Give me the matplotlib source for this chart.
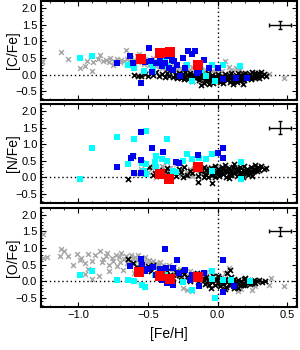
import matplotlib
matplotlib.use("Agg")
import matplotlib.pyplot as plt
from matplotlib.ticker import MultipleLocator

plt.rcParams['font.family'] = ['Liberation Sans', 'DejaVu Sans']

# ---------------- data: (Fe/H, X/Fe) pairs per group ----------------
gray_c = [(-1.26,0.39),(-1.12,0.69),(-1.07,0.48),(-0.99,0.21),(-0.95,0.27),(-0.94,0.40),(-0.90,0.10),
          (-0.89,0.37),(-0.86,0.47),(-0.84,0.60),(-0.82,0.40),(-0.80,0.45),(-0.78,0.38),(-0.77,0.50),
          (-0.75,0.30),(-0.74,0.42),(-0.72,0.46),(-0.70,0.38),(-0.69,0.44),(-0.67,0.40),(-0.66,0.75),
          (-0.65,0.47),(-0.63,0.36),(-0.62,0.50),(-0.60,0.44),(-0.58,0.55),(-0.57,0.38),(-0.56,0.62),
          (-0.55,0.45),(-0.53,0.33),(-0.52,0.48),(-0.50,0.40),(-0.49,0.28),(-0.47,0.35),(-0.46,0.50),
          (-0.44,0.25),(-0.43,0.38),(-0.41,0.30),(-0.40,0.20),(-0.38,0.28),(-0.37,0.15),(-0.35,0.32),
          (-0.34,0.22),(-0.32,0.10),(-0.31,0.25),(-0.29,0.18),(-0.28,0.05),(-0.26,0.20),(-0.25,0.12),
          (-0.23,0.28),(-0.22,0.08),(-0.20,0.15),(-0.18,0.22),(-0.17,0.05),(-0.15,0.12),(-0.13,0.18),
          (-0.11,0.02),(-0.10,0.10),(-0.08,0.15),(-0.06,0.05),(-0.04,0.12),(-0.02,0.08),(0.00,0.18),
          (0.03,0.10),(0.05,0.42),(0.08,0.22),(0.10,0.15),(0.13,0.20),(0.16,0.15),(0.35,-0.02),
          (0.37,0.02),(0.48,-0.10),(-1.26,0.42)]
black_c = [(-0.60,-0.02),(-0.57,-0.05),(-0.55,-0.03),(-0.52,0.02),(-0.50,-0.04),(-0.48,0.05),(-0.46,-0.02),
           (-0.44,0.08),(-0.42,-0.05),(-0.40,0.02),(-0.38,-0.08),(-0.36,0.05),(-0.35,-0.03),(-0.33,0.10),
           (-0.32,-0.06),(-0.30,0.02),(-0.29,-0.10),(-0.28,0.06),(-0.27,-0.03),(-0.26,-0.12),(-0.25,0.03),
           (-0.24,-0.07),(-0.23,0.08),(-0.22,-0.02),(-0.21,-0.15),(-0.20,0.04),(-0.19,-0.08),(-0.18,-0.20),
           (-0.17,0.00),(-0.16,-0.12),(-0.15,0.06),(-0.14,-0.05),(-0.13,-0.18),(-0.12,0.02),(-0.11,-0.10),
           (-0.10,-0.25),(-0.09,-0.03),(-0.08,-0.14),(-0.07,0.05),(-0.06,-0.08),(-0.05,-0.20),(-0.04,0.00),
           (-0.03,-0.12),(-0.02,-0.05),(-0.01,-0.18),(0.00,0.02),(0.01,-0.10),(0.02,-0.22),(0.03,-0.03),
           (0.04,-0.15),(0.05,0.03),(0.06,-0.08),(0.07,-0.18),(0.08,-0.02),(0.09,-0.12),(0.10,0.04),
           (0.11,-0.06),(0.12,-0.16),(0.13,-0.01),(0.14,-0.10),(0.15,0.05),(0.16,-0.05),(0.17,-0.14),
           (0.18,0.02),(0.19,-0.08),(0.20,0.06),(0.21,-0.03),(0.22,-0.12),(0.23,0.03),(0.24,-0.06),
           (0.25,0.08),(0.26,-0.02),(0.27,0.04),(0.28,-0.08),(0.29,0.06),(0.30,0.00),(0.31,0.08),
           (0.33,0.03),(0.35,-0.05),(0.18,-0.30),(-0.12,-0.32),(0.30,-0.10),
           (-0.20,-0.05),(-0.15,-0.02),(-0.10,-0.08),(-0.05,-0.12),(0.00,-0.15),(0.05,-0.10),(0.10,-0.12),
           (0.15,-0.08),(0.20,-0.05),(0.25,-0.03),(-0.08,-0.20),(0.02,-0.08),(0.07,-0.05),(0.12,-0.20),
           (0.17,-0.02),(0.22,0.00),(-0.03,-0.25),(0.04,-0.26),(0.09,-0.22),(-0.18,-0.12),(-0.13,-0.08),
           (0.27,-0.10),(0.32,-0.03),(-0.30,-0.05),(-0.24,-0.15),(0.14,-0.24),(-0.06,-0.30),(0.19,-0.18),
           (0.11,-0.28),(0.24,-0.14),(-0.01,-0.08),(0.06,-0.15),(0.13,-0.13),(-0.07,-0.16),(0.16,-0.20)]
cyan_c = [(-0.99,0.51),(-0.90,0.55),(-0.64,0.30),(-0.60,0.20),(-0.53,0.12),(-0.38,0.48),(-0.47,0.30),
          (-0.46,0.12),(-0.36,0.25),(-0.22,0.30),(-0.18,-0.20),(-0.04,0.30),(-0.02,-0.20),(0.04,0.30),
          (0.16,0.25),(-0.08,-0.05),(-0.42,0.38),(-0.12,0.15)]
blue_c = [(-0.72,0.35),(-0.63,0.55),(-0.61,0.35),(-0.55,-0.27),(-0.54,0.54),(-0.49,0.80),(-0.44,0.35),
          (-0.47,0.08),(-0.41,0.45),(-0.38,0.35),(-0.36,0.55),(-0.33,0.45),(-0.31,0.40),(-0.29,0.30),
          (-0.32,0.15),(-0.25,0.50),(-0.21,0.70),(-0.16,0.70),(-0.18,0.62),(-0.10,0.45),(-0.13,0.10),
          (-0.06,0.20),(0.00,0.20),(0.04,-0.15),(0.13,-0.10),(0.21,-0.12),(-0.27,-0.05),(-0.40,0.25),
          (-0.35,0.20),(-0.23,0.20),(-0.15,0.05),(-0.52,0.38),(-0.48,0.42)]
red_c = [(-0.55,0.47),(-0.41,0.65),(-0.34,0.67),(-0.14,0.30)]

gray_n = [(-0.55,0.25),(-0.50,0.15),(-0.48,0.30),(-0.45,0.10),(-0.42,0.22),(-0.40,0.35),(-0.38,0.05),
          (-0.36,0.18),(-0.34,0.28),(-0.32,0.12),(-0.30,0.40),(-0.28,0.20),(-0.26,0.08),(-0.24,0.30),
          (-0.22,0.15),(-0.20,0.25),(-0.18,0.05),(-0.16,0.35),(-0.14,0.20),(-0.12,0.10),(-0.10,0.28),
          (-0.08,0.15),(-0.05,0.32),(-0.03,0.22),(0.00,0.35),(0.05,0.28),(-0.52,0.40),(-0.44,0.02),
          (0.10,0.30),(-0.58,0.10),(-0.36,0.46)]
black_n = [(-0.45,0.12),(-0.42,0.22),(-0.40,0.08),(-0.38,0.18),(-0.36,0.28),(-0.34,0.10),(-0.32,0.20),
           (-0.30,0.05),(-0.28,0.25),(-0.26,0.15),(-0.24,0.30),(-0.22,0.08),(-0.20,0.20),(-0.18,0.12),
           (-0.16,0.28),(-0.14,0.05),(-0.12,0.18),(-0.10,0.32),(-0.09,0.10),(-0.08,0.22),(-0.07,0.02),
           (-0.06,0.15),(-0.05,0.28),(-0.04,0.08),(-0.03,0.20),(-0.02,0.35),(-0.01,0.12),(0.00,0.25),
           (0.01,0.05),(0.02,0.18),(0.03,0.30),(0.04,0.10),(0.05,0.22),(0.06,0.02),(0.07,0.15),
           (0.08,0.28),(0.09,0.08),(0.10,0.20),(0.11,0.32),(0.12,0.12),(0.13,0.24),(0.14,0.05),
           (0.15,0.18),(0.16,0.30),(0.17,0.10),(0.18,0.22),(0.19,0.35),(0.20,0.14),(0.21,0.26),
           (0.22,0.08),(0.23,0.20),(0.24,0.32),(0.25,0.15),(0.26,0.25),(0.27,0.38),(0.28,0.20),
           (0.29,0.30),(0.30,0.22),(0.31,0.33),(0.33,0.25),(0.35,0.28),(-0.64,-0.05),(-0.61,0.65),
           (-0.49,0.31),(-0.46,0.07),(-0.14,-0.14),(-0.04,-0.17),(-0.55,0.15),(-0.10,0.00),(0.05,0.38),
           (0.12,0.40),(0.18,0.02),(0.25,0.05),(-0.02,0.00),(0.08,-0.02),(-0.25,0.00),
           (-0.06,0.25),(0.02,0.12),(0.07,0.20),(0.10,0.10),(0.15,0.26),(0.20,0.20),(0.23,0.12),
           (0.00,0.15),(-0.12,0.25),(0.28,0.28),(0.13,0.16),(0.04,0.24),(-0.08,0.08),(0.16,0.12),
           (0.21,0.18),(0.09,0.15),(-0.03,0.10),(0.26,0.18)]
cyan_n = [(-0.99,-0.06),(-0.90,0.88),(-0.72,1.21),(-0.64,0.40),(-0.60,1.15),(-0.51,1.39),(-0.54,0.43),
          (-0.53,0.19),(-0.51,0.40),(-0.51,0.10),(-0.36,1.15),(-0.44,0.64),(-0.45,0.46),(-0.44,0.31),
          (-0.36,0.50),(-0.32,0.20),(-0.30,0.15),(-0.25,0.50),(-0.22,0.69),(-0.18,0.54),(-0.13,0.57),
          (-0.08,0.54),(-0.04,0.69),(-0.04,0.20),(0.17,0.45),(0.17,-0.06),(-0.40,0.55)]
blue_n = [(-0.72,0.31),(-0.62,0.58),(-0.61,0.63),(-0.60,0.13),(-0.55,1.36),(-0.55,0.52),(-0.55,0.13),
          (-0.47,0.87),(-0.39,0.75),(-0.30,0.45),(-0.28,0.42),(-0.14,0.66),(0.00,0.72),(0.04,0.87),
          (0.04,0.57)]
red_n = [(-0.41,0.11),(-0.35,-0.05),(-0.14,0.30)]

gray_o = [(-1.25,1.42),(-1.25,0.70),(-1.22,0.72),(-1.12,0.97),(-1.10,0.92),(-1.13,0.75),(-1.07,0.75),
          (-1.04,0.48),(-1.01,0.81),(-0.98,0.70),(-0.99,0.65),(-0.95,0.55),(-0.93,0.82),(-0.93,0.36),
          (-0.90,0.06),(-0.95,0.21),(-0.90,0.62),(-0.88,0.78),(-0.84,0.90),(-0.83,0.58),(-0.82,0.68),
          (-0.80,0.75),(-0.79,0.85),(-0.78,0.50),(-0.76,0.70),(-0.75,0.62),(-0.73,0.80),(-0.72,0.45),
          (-0.71,0.72),(-0.70,0.58),(-0.69,0.85),(-0.67,0.66),(-0.66,0.75),(-0.65,0.55),(-0.64,0.70),
          (-0.63,0.60),(-0.62,0.80),(-0.61,0.68),(-0.60,0.52),(-0.59,0.72),(-0.58,0.63),(-0.57,0.78),
          (-0.56,0.55),(-0.55,0.68),(-0.54,0.48),(-0.53,0.62),(-0.52,0.72),(-0.51,0.40),(-0.50,0.58),
          (-0.49,0.65),(-0.48,0.35),(-0.47,0.52),(-0.46,0.60),(-0.45,0.45),(-0.44,0.55),(-0.43,0.30),
          (-0.42,0.48),(-0.41,0.58),(-0.40,0.38),(-0.39,0.50),(-0.38,0.25),(-0.37,0.42),(-0.36,0.32),
          (-0.35,0.48),(-0.34,0.20),(-0.33,0.38),(-0.32,0.28),(-0.31,0.42),(-0.30,0.15),(-0.29,0.33),
          (-0.28,0.22),(-0.27,0.38),(-0.26,0.10),(-0.25,-0.20),(-0.22,-0.25),(-0.24,0.28),(-0.22,0.18),
          (-0.20,0.32),(-0.18,0.12),(-0.16,0.25),(-0.14,0.05),(-0.12,0.20),(-0.10,0.15),(-0.08,0.28),
          (-0.06,0.08),(-0.04,0.18),(-0.02,0.02),(0.00,0.12),(0.05,0.25),(0.08,0.40),(0.10,-0.10),
          (0.12,-0.20),(0.15,-0.30),(0.17,-0.22),(0.25,-0.25),(0.27,-0.15),(0.37,-0.10),(0.38,0.10),
          (0.48,-0.15),(-0.85,0.15),(-0.78,0.30),(-0.68,0.35),(-0.60,0.25),(-0.18,-0.28)]
black_o = [(-0.64,0.68),(-0.61,0.55),(-0.58,0.43),(-0.55,0.50),(-0.50,0.45),(-0.46,0.50),(-0.42,0.35),
           (-0.48,0.30),(-0.40,0.25),(-0.38,0.15),(-0.36,0.30),(-0.34,0.20),(-0.32,0.10),(-0.30,0.28),
           (-0.28,0.18),(-0.26,0.05),(-0.24,0.22),(-0.22,0.12),(-0.20,0.00),(-0.18,0.18),(-0.16,0.08),
           (-0.14,-0.02),(-0.12,0.15),(-0.10,0.05),(-0.09,-0.08),(-0.08,0.12),(-0.07,0.02),(-0.06,-0.10),
           (-0.05,0.08),(-0.04,-0.02),(-0.03,0.15),(-0.02,-0.12),(-0.01,0.05),(0.00,-0.05),(0.01,0.10),
           (0.02,-0.15),(0.03,0.00),(0.04,-0.08),(0.05,0.08),(0.06,-0.18),(0.07,-0.02),(0.08,0.05),
           (0.09,-0.12),(0.10,0.00),(0.11,-0.06),(0.12,0.08),(0.13,-0.15),(0.14,-0.03),(0.15,0.04),
           (0.16,-0.10),(0.17,0.00),(0.18,-0.05),(0.19,0.06),(0.20,-0.12),(0.21,-0.02),(0.22,0.03),
           (0.23,-0.08),(0.24,0.02),(0.25,-0.04),(0.26,0.05),(0.27,-0.06),(0.28,0.00),(0.30,0.03),
           (0.32,-0.02),(0.34,0.01),(0.09,0.34),(0.07,0.25),(-0.15,0.25),(-0.05,-0.20),(0.05,-0.22),
           (0.12,-0.20),(0.00,0.15),(0.10,0.12),(-0.25,0.30),(0.20,0.10),(0.15,-0.20),
           (-0.06,0.02),(0.02,-0.03),(0.08,-0.07),(0.13,-0.01),(0.18,-0.10),(-0.11,0.08),(0.04,0.04),
           (0.22,-0.05),(-0.02,0.08),(0.11,-0.12)]
cyan_o = [(-0.99,0.20),(-0.90,0.30),(-0.72,0.05),(-0.64,0.05),(-0.60,0.00),(-0.54,-0.12),(-0.52,-0.18),
          (-0.45,0.20),(-0.38,0.20),(-0.25,-0.03),(-0.18,-0.27),(-0.13,0.15),(-0.04,0.30),(-0.04,0.06),
          (-0.02,-0.50),(0.04,0.03),(0.10,0.03),(0.23,0.00),(-0.42,0.12)]
blue_o = [(-0.63,0.45),(-0.55,0.67),(-0.54,0.48),(-0.52,0.30),(-0.50,0.38),(-0.38,0.98),(-0.29,0.63),
          (-0.46,0.42),(-0.41,0.36),(-0.37,0.40),(-0.32,0.39),(-0.36,-0.05),(-0.32,-0.12),(-0.28,0.25),
          (-0.23,0.35),(-0.18,0.20),(-0.13,-0.15),(0.04,0.63),(0.04,-0.33),(0.12,-0.15),(-0.44,0.20),
          (-0.40,0.05),(-0.20,0.05),(-0.10,0.25)]
red_o = [(-0.56,0.27),(-0.41,0.15),(-0.34,0.06),(-0.14,0.12)]

labels = ['[C/Fe]', '[N/Fe]', '[O/Fe]']
errbar_y = [0.12, 0.2, 0.15]
errbar_x = 0.08

panels = [
    (gray_c, black_c, cyan_c, blue_c, red_c),
    (gray_n, black_n, cyan_n, blue_n, red_n),
    (gray_o, black_o, cyan_o, blue_o, red_o),
]

fig = plt.figure(figsize=(3.0, 3.5), dpi=100)
tops = [0.997, 0.703, 0.406]
h = 0.283
left, width = 0.135, 0.855

def xy(pairs):
    return [p[0] for p in pairs], [p[1] for p in pairs]

for i, (gray, black, cyan, blue, red) in enumerate(panels):
    ax = fig.add_axes([left, tops[i] - h, width, h])
    ax.axhline(0, color='black', ls=(0, (1, 2)), lw=1.0, zorder=1)
    ax.axvline(0, color='black', ls=(0, (1, 2)), lw=1.0, zorder=1)
    x, y = xy(gray)
    ax.scatter(x, y, marker='x', s=12, c='#a8a8a8', linewidths=1.1, zorder=2)
    x, y = xy(black)
    ax.scatter(x, y, marker='x', s=13, c='black', linewidths=1.2, zorder=3)
    x, y = xy(cyan)
    ax.scatter(x, y, marker='s', s=21, c='#00ffff', linewidths=0, zorder=4)
    x, y = xy(blue)
    ax.scatter(x, y, marker='s', s=21, c='#0000f0', linewidths=0, zorder=5)
    x, y = xy(red)
    ax.scatter(x, y, marker='s', s=50, c='#ff0000', linewidths=0, zorder=6)
    ax.errorbar([0.45], [1.5], xerr=[errbar_x], yerr=[errbar_y[i]], fmt='none',
                ecolor='black', elinewidth=1.0, capsize=1.5, capthick=1.0, zorder=7)
    ax.set_xlim(-1.27, 0.57)
    ax.set_ylim(-0.77, 2.21)
    ax.xaxis.set_major_locator(MultipleLocator(0.5))
    ax.xaxis.set_minor_locator(MultipleLocator(0.1))
    ax.yaxis.set_major_locator(MultipleLocator(0.5))
    ax.yaxis.set_minor_locator(MultipleLocator(0.1))
    ax.tick_params(which='both', direction='in', top=True, right=True, labelsize=8)
    ax.tick_params(which='major', length=3.5, width=0.8, pad=2.5)
    ax.tick_params(which='minor', length=1.5, width=0.6)
    for s in ax.spines.values():
        s.set_linewidth(1.5)
    ax.set_ylabel(labels[i], fontsize=10)
    ax.yaxis.set_label_coords(-0.078, 0.5)
    if i < 2:
        ax.tick_params(labelbottom=False)
    else:
        ax.set_xlabel('[Fe/H]', fontsize=10, labelpad=5)

fig.savefig('out.png', dpi=100)
